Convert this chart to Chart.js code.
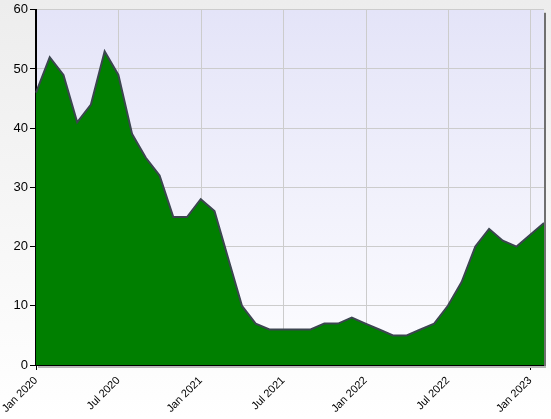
<!DOCTYPE html>
<html>
<head>
<meta charset="utf-8">
<script src="https://cdn.jsdelivr.net/npm/chart.js@4/dist/chart.umd.min.js"></script>
<style>
	html, body { margin: 0; padding: 0; }
	body { width: 551px; height: 419px; overflow: hidden; background: linear-gradient(to bottom, #ededed, #ffffff); }
	canvas { display: block; }
</style>
</head>
<body>
<canvas id="chart" width="551" height="419"></canvas>
<script>
// monthly values, Jan 2020 .. Feb 2023
var monthNames = ["Jan","Feb","Mar","Apr","May","Jun","Jul","Aug","Sep","Oct","Nov","Dec"];
var startYear = 2020;
var values = [46,52,49,41,44,53,49,39,35,32,25,25,
	28,26,18,10,7,6,6,6,6,7,7,8,
	7,6,5,5,6,7,10,14,20,23,21,20,
	22,24];
var yTicks = [0,10,20,30,40,50,60];

var labels = values.map(function (v, i) {
	return monthNames[i % 12] + " " + (startYear + Math.floor(i / 12));
});

// plot background, half-year grid lines, right edge shadow
var plotBg = {
	id: 'plotBg',
	beforeDraw: function (chart)
	{
		var a = chart.chartArea, ctx = chart.ctx;
		var g = ctx.createLinearGradient(0, a.top, 0, a.bottom);
		g.addColorStop(0, "#e4e4f8");
		g.addColorStop(1, "#fdfdff");
		ctx.save();
		ctx.fillStyle = g;
		ctx.fillRect(a.left, a.top, a.right - a.left, a.bottom - a.top);
		ctx.restore();
	},
	beforeDatasetsDraw: function (chart)
	{
		var a = chart.chartArea, ctx = chart.ctx, xs = chart.scales.x;
		ctx.save();
		ctx.strokeStyle = "#cccccc";
		ctx.lineWidth = 1;
		for (var i = 6; i < labels.length; i += 6)
		{
			var px = Math.round(xs.getPixelForValue(i)) + 0.5;
			ctx.beginPath();
			ctx.moveTo(px, a.top);
			ctx.lineTo(px, a.bottom);
			ctx.stroke();
		}
		ctx.restore();
	},
	afterDraw: function (chart)
	{
		var a = chart.chartArea, ctx = chart.ctx;
		ctx.save();
		ctx.fillStyle = "#707070";
		ctx.fillRect(a.right, a.top + 3, 2, a.bottom - a.top);
		ctx.fillStyle = "#b8b8b8";
		ctx.fillRect(a.left + 2, a.bottom + 1, a.right - a.left, 2);
		ctx.restore();
	}
};

new Chart(document.getElementById("chart").getContext("2d"), {
	type: 'line',
	data: {
		labels: labels,
		datasets: [{
			data: values,
			fill: 'origin',
			backgroundColor: "#007f00",
			borderColor: "#3c4650",
			borderWidth: 2,
			pointRadius: 0,
			tension: 0
		}]
	},
	options: {
		responsive: false,
		animation: false,
		layout: { padding: { left: 0, right: 7, top: 7, bottom: 0 } },
		plugins: { legend: { display: false }, tooltip: { enabled: false } },
		scales: {
			x: {
				type: 'category',
				offset: false,
				afterFit: function (s) { s.height = 54; },
				border: { display: true, color: "#000", width: 2 },
				grid: {
					drawOnChartArea: false,
					color: "#000",
					tickColor: function (c) { return c.index % 6 === 0 ? "#000" : "rgba(0,0,0,0)"; },
					tickLength: 5
				},
				ticks: {
					autoSkip: false,
					maxRotation: 45,
					minRotation: 45,
					padding: 4,
					color: "#000",
					font: { family: "Liberation Sans, Arial, sans-serif", size: 11 },
					callback: function (v, i) { return i % 6 === 0 ? labels[i] : null; }
				}
			},
			y: {
				min: yTicks[0],
				max: yTicks[yTicks.length - 1],
				afterFit: function (s) { s.width = 36; },
				border: { display: true, color: "#000", width: 2 },
				grid: {
					color: function (c) { return c.index > 0 ? "#cccccc" : "rgba(0,0,0,0)"; },
					tickColor: "#000",
					tickLength: 6
				},
				ticks: {
					stepSize: 10,
					padding: 2,
					color: "#000",
					font: { family: "Liberation Sans, Arial, sans-serif", size: 13 }
				}
			}
		}
	},
	plugins: [plotBg]
});
</script>
</body>
</html>
